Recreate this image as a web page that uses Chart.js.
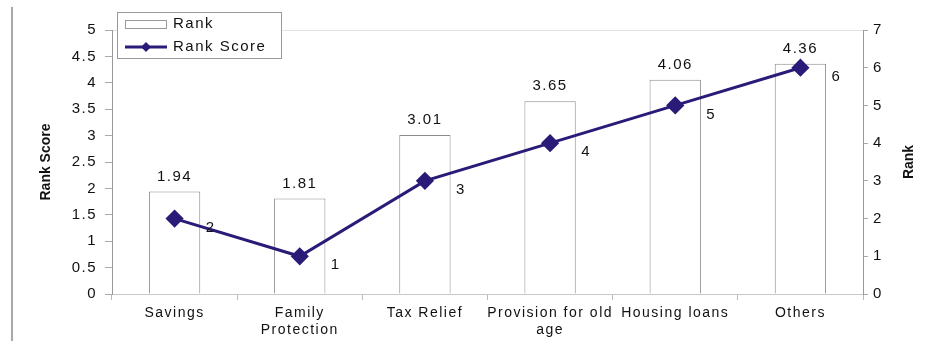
<!DOCTYPE html>
<html lang="en">
<head>
<meta charset="UTF-8">
<title>Rank Score by Category</title>
<script src="https://cdn.jsdelivr.net/npm/chart.js"></script>
<style>
  body { margin: 0; background: #fff; }
  #wrap { position: relative; width: 930px; height: 341px; }
  #wrap canvas { display: block; }
  #edge { position: absolute; left: 11px; top: 7px; width: 2px; height: 334px; background: #a8a8a8; }
</style>
</head>
<body>
<div id="wrap">
  <canvas id="rankChart" width="930" height="341"></canvas>
  <div id="edge"></div>
</div>

<script>
    // data
    const categories = [['Savings'], ['Family', 'Protection'], ['Tax Relief'], ['Provision for old', 'age'], ['Housing loans'], ['Others']];
    const scoreValues = [1.94, 1.81, 3.01, 3.65, 4.06, 4.36];
    const rankValues = [2, 1, 3, 4, 5, 6];
    const scoreTicks = [0, 0.5, 1, 1.5, 2, 2.5, 3, 3.5, 4, 4.5, 5];
    const rankTicks = [0, 1, 2, 3, 4, 5, 6, 7];

    const FONT = '"Liberation Sans", Arial, sans-serif';
    const navy = '#2b1b78';

    function diamond(ctx, x, y, r) {
        ctx.beginPath();
        ctx.moveTo(x, y - r);
        ctx.lineTo(x + r, y);
        ctx.lineTo(x, y + r);
        ctx.lineTo(x - r, y);
        ctx.closePath();
        ctx.fill();
    }

    const extras = {
        id: 'extras',
        beforeDraw(chart) {
            chart.ctx.letterSpacing = '1.5px';
        },
        afterDraw(chart) {
            const ctx = chart.ctx;
            const area = chart.chartArea;
            ctx.save();
            ctx.fillStyle = '#111';
            ctx.font = '15px ' + FONT;
            ctx.textAlign = 'center';
            ctx.textBaseline = 'middle';

            // value labels above the bars
            chart.getDatasetMeta(0).data.forEach((bar, i) => {
                ctx.fillText(scoreValues[i].toFixed(2), bar.x, bar.y - 15);
            });
            // rank labels beside the points
            chart.getDatasetMeta(1).data.forEach((pt, i) => {
                ctx.fillText(String(rankValues[i]), pt.x + 36, pt.y + 9);
            });

            // axis titles
            const midY = (area.top + area.bottom) / 2;
            ctx.letterSpacing = '0px';
            ctx.font = 'bold 14px ' + FONT;
            ctx.save();
            ctx.translate(46, midY);
            ctx.rotate(-Math.PI / 2);
            ctx.fillText('Rank Score', 0, 0);
            ctx.restore();
            ctx.save();
            ctx.translate(909, midY);
            ctx.rotate(-Math.PI / 2);
            ctx.fillText('Rank', 0, 0);
            ctx.restore();

            // legend box
            ctx.fillStyle = '#fff';
            ctx.fillRect(117, 12, 165, 47);
            ctx.strokeStyle = '#999';
            ctx.lineWidth = 1;
            ctx.strokeRect(117.5, 12.5, 164, 46);
            ctx.strokeRect(125.5, 20.5, 41, 8);

            ctx.strokeStyle = navy;
            ctx.lineWidth = 3;
            ctx.beginPath();
            ctx.moveTo(125, 47);
            ctx.lineTo(167, 47);
            ctx.stroke();
            ctx.fillStyle = navy;
            diamond(ctx, 146, 47, 5);

            ctx.fillStyle = '#111';
            ctx.letterSpacing = '1.5px';
            ctx.font = '15px ' + FONT;
            ctx.textAlign = 'left';
            ctx.fillText('Rank', 173, 24);
            ctx.fillText('Rank Score', 173, 47);
            ctx.restore();
        }
    };

    const ctx = document.getElementById('rankChart').getContext('2d');
    new Chart(ctx, {
        type: 'bar',
        data: {
            labels: categories,
            datasets: [
                {
                    type: 'bar',
                    label: 'Rank',
                    data: scoreValues,
                    yAxisID: 'y',
                    backgroundColor: '#ffffff',
                    borderColor: '#8c8c8c',
                    borderWidth: 1,
                    barPercentage: 0.41,
                    categoryPercentage: 1,
                    order: 2
                },
                {
                    type: 'line',
                    label: 'Rank Score',
                    data: rankValues,
                    yAxisID: 'y1',
                    borderColor: navy,
                    borderWidth: 3,
                    pointStyle: 'rectRot',
                    pointRadius: 7,
                    pointBackgroundColor: navy,
                    pointBorderColor: navy,
                    tension: 0,
                    order: 1
                }
            ]
        },
        options: {
            responsive: false,
            animation: false,
            layout: { padding: { top: 30, left: 0, right: 0, bottom: 0 } },
            plugins: {
                legend: { display: false },
                tooltip: { enabled: false }
            },
            scales: {
                x: {
                    grid: { display: true, drawOnChartArea: false, offset: true, tickLength: 6, color: '#bbbbbb' },
                    border: { color: '#c8c8c8' },
                    ticks: { font: { family: FONT, size: 14 }, color: '#111', padding: 5, maxRotation: 0, minRotation: 0, autoSkip: false },
                    afterFit(s) { s.height = 47; }
                },
                y: {
                    position: 'left',
                    min: 0,
                    max: 5,
                    afterBuildTicks(s) { s.ticks = scoreTicks.map(v => ({ value: v })); },
                    grid: {
                        drawOnChartArea: true,
                        color: c => (c.tick && c.tick.value === 5 ? '#e2e2e2' : 'rgba(0,0,0,0)'),
                        tickColor: '#aaaaaa',
                        tickLength: 7
                    },
                    border: { color: '#999999' },
                    ticks: { font: { family: FONT, size: 15 }, color: '#111', padding: 8, callback: v => String(v) },
                    afterFit(s) { s.width = 112; }
                },
                y1: {
                    position: 'right',
                    min: 0,
                    max: 7,
                    afterBuildTicks(s) { s.ticks = rankTicks.map(v => ({ value: v })); },
                    grid: { drawOnChartArea: false, tickColor: '#aaaaaa', tickLength: 5 },
                    border: { color: '#999999' },
                    ticks: { font: { family: FONT, size: 15 }, color: '#111', padding: 5, callback: v => String(v) },
                    afterFit(s) { s.width = 67; }
                }
            }
        },
        plugins: [extras]
    });
</script>
</body>
</html>
